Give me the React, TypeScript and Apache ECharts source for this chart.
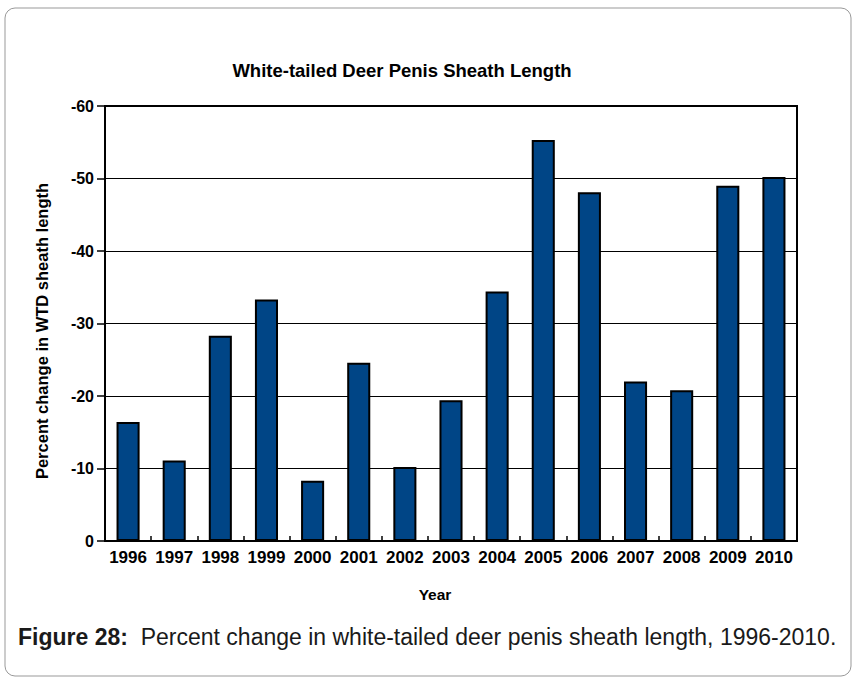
import React, { useEffect, useRef } from "react";
import * as echarts from "echarts";

const years = ["1996","1997","1998","1999","2000","2001","2002","2003","2004","2005","2006","2007","2008","2009","2010"];
const percentChange = [-16.4, -11.1, -28.3, -33.3, -8.3, -24.6, -10.2, -19.4, -34.4, -55.3, -48.1, -22.0, -20.8, -49.0, -50.2];
const chartTitle = "White-tailed Deer Penis Sheath Length";
const yAxisName = "Percent change in WTD sheath length";
const xAxisName = "Year";
const captionBold = "Figure 28:";
const captionText = "  Percent change in white-tailed deer penis sheath length, 1996-2010.";

const FONT = "'Liberation Sans', Arial, sans-serif";

export default function App() {
  const ref = useRef<HTMLDivElement>(null);
  useEffect(() => {
    if (!ref.current) return;
    const chart = echarts.init(ref.current, null, { renderer: "svg" });
    chart.setOption({
      animation: false,
      backgroundColor: "#ffffff",
      textStyle: { fontFamily: FONT },
      title: {
        text: chartTitle,
        left: 397,
        top: 56,
        textAlign: "center",
        textStyle: { fontSize: 18.5, fontWeight: "bold", color: "#000", fontFamily: FONT },
      },
      grid: {
        left: 105,
        right: 58,
        top: 106,
        bottom: 139,
        show: true,
        borderColor: "#000",
        borderWidth: 2,
        backgroundColor: "transparent",
        containLabel: false,
      },
      xAxis: {
        type: "category",
        data: years,
        axisLine: { show: true, lineStyle: { color: "#000", width: 2 } },
        axisTick: { show: true, inside: true, length: 5, alignWithLabel: false, lineStyle: { color: "#000", width: 1.5 } },
        axisLabel: { fontSize: 17, fontWeight: "bold", color: "#000", margin: 8, fontFamily: FONT, interval: 0 },
        splitLine: { show: false },
      },
      yAxis: {
        type: "value",
        inverse: true,
        min: -60,
        max: 0,
        interval: 10,
        axisLine: { show: true, lineStyle: { color: "#000", width: 2 } },
        axisTick: { show: true, inside: false, length: 8, lineStyle: { color: "#000", width: 1.5 } },
        axisLabel: { fontSize: 16, fontWeight: "bold", color: "#000", margin: 11, fontFamily: FONT },
        splitLine: { show: true, lineStyle: { color: "#000", width: 1 } },
      },
      series: [
        {
          type: "bar",
          data: percentChange,
          barWidth: "50%",
          itemStyle: { color: "#004586", borderColor: "#000", borderWidth: 2 },
        },
      ],
      graphic: [
        {
          type: "rect",
          shape: { x: 5, y: 8, width: 846, height: 668, r: 10 },
          style: { fill: "none", stroke: "#999", lineWidth: 1 },
          silent: true,
          z: -1,
        },
        {
          type: "text",
          x: 42,
          y: 331,
          rotation: Math.PI / 2,
          style: {
            text: yAxisName,
            align: "center",
            verticalAlign: "middle",
            fontSize: 16.5,
            fontWeight: "bold",
            fill: "#000",
            fontFamily: FONT,
          },
        },
        {
          type: "text",
          x: 435,
          y: 594,
          style: {
            text: xAxisName,
            align: "center",
            verticalAlign: "middle",
            fontSize: 15.5,
            fontWeight: "bold",
            fill: "#000",
            fontFamily: FONT,
          },
        },
        {
          type: "text",
          x: 18,
          y: 637,
          style: {
            text: "{b|" + captionBold + "}{r|" + captionText + "}",
            verticalAlign: "middle",
            rich: {
              b: { fontSize: 23, fontWeight: "bold", fill: "#1a1a1a", fontFamily: FONT },
              r: { fontSize: 23, fontWeight: "normal", fill: "#1a1a1a", fontFamily: FONT },
            },
          },
        },
      ],
    });
    return () => chart.dispose();
  }, []);
  return (
    <div
      ref={ref}
      style={{ position: "absolute", left: 0, top: 0, width: 855, height: 680 }}
    />
  );
}
